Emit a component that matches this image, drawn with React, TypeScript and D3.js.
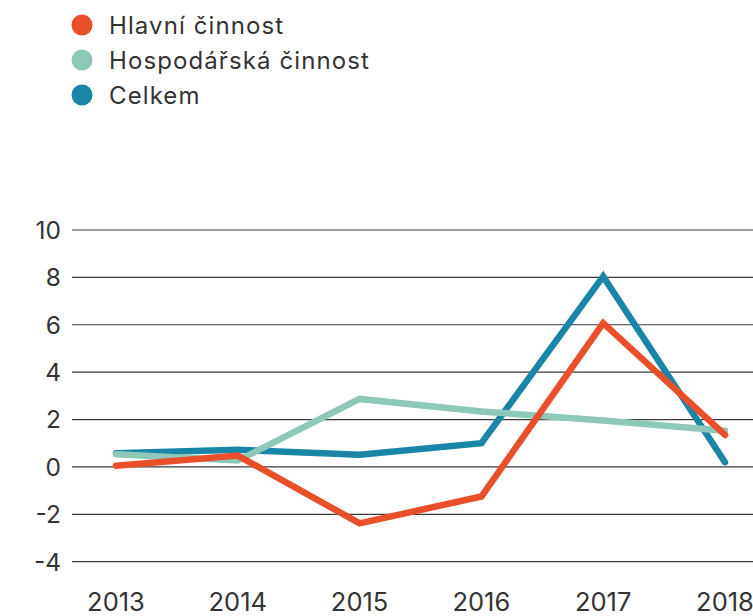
import React, { useRef, useEffect } from 'react';
import * as d3 from 'd3';

const years = ['2013', '2014', '2015', '2016', '2017', '2018'];
const hlavni = [0.05, 0.48, -2.38, -1.25, 6.07, 1.35];
const hospodarska = [0.54, 0.27, 2.87, 2.34, 1.96, 1.53];
const celkem = [0.58, 0.72, 0.51, 1.0, 8.04, 0.2];
const yTicks = [-4, -2, 0, 2, 4, 6, 8, 10];

const seriesNames = ['Hlavní činnost', 'Hospodářská činnost', 'Celkem'];
const seriesColors = ['#e9502a', '#8ec8b9', '#1985a7'];

const W = 753;
const H = 616;

const App = () => {
  const svgRef = useRef<SVGSVGElement>(null);

  useEffect(() => {
    const svg = d3.select(svgRef.current);
    svg.selectAll('*').remove();

    const font = "'Inter', 'Roboto', sans-serif";

    const x = d3.scalePoint<string>()
      .domain(years)
      .range([116, 725]);

    const y = d3.scaleLinear()
      .domain([-4, 10])
      .range([561.7, 230]);

    // gridlines
    svg.append('g')
      .selectAll('line')
      .data(yTicks)
      .enter()
      .append('line')
      .attr('x1', 72)
      .attr('x2', W)
      .attr('y1', d => y(d))
      .attr('y2', d => y(d))
      .attr('stroke', '#3a3a3a')
      .attr('stroke-width', 1.2);

    // y tick labels
    svg.append('g')
      .selectAll('text')
      .data(yTicks)
      .enter()
      .append('text')
      .attr('x', 61)
      .attr('y', d => y(d))
      .attr('dy', '0.36em')
      .attr('text-anchor', 'end')
      .attr('font-family', font)
      .attr('font-size', 24.5)
      .attr('fill', '#333')
      .text(d => d);

    // x labels
    svg.append('g')
      .selectAll('text')
      .data(years)
      .enter()
      .append('text')
      .attr('x', d => x(d)!)
      .attr('y', 611)
      .attr('text-anchor', 'middle')
      .attr('font-family', font)
      .attr('font-size', 25.5)
      .attr('fill', '#333')
      .text(d => d);

    const line = d3.line<number>()
      .x((d, i) => x(years[i])!)
      .y(d => y(d));

    // draw order: blue, teal, orange
    const series = [
      { values: celkem, color: seriesColors[2] },
      { values: hospodarska, color: seriesColors[1] },
      { values: hlavni, color: seriesColors[0] },
    ];

    svg.append('g')
      .selectAll('path')
      .data(series)
      .enter()
      .append('path')
      .attr('d', d => line(d.values))
      .attr('fill', 'none')
      .attr('stroke', d => d.color)
      .attr('stroke-width', 6.5)
      .attr('stroke-linecap', 'round')
      .attr('stroke-linejoin', 'miter');

    // legend
    const legend = svg.append('g');
    seriesNames.forEach((name, i) => {
      const cy = 25 + i * 35;
      legend.append('circle')
        .attr('cx', 82)
        .attr('cy', cy)
        .attr('r', 10.5)
        .attr('fill', seriesColors[i]);
      legend.append('text')
        .attr('x', 109)
        .attr('y', cy)
        .attr('dy', '0.36em')
        .attr('font-family', font)
        .attr('font-size', 24)
        .attr('letter-spacing', 1.1)
        .attr('fill', '#333')
        .text(name);
    });
  }, []);

  return (
    <svg
      ref={svgRef}
      width={W}
      height={H}
      style={{ position: 'absolute', left: 0, top: 0, background: '#fff' }}
    />
  );
};

export default App;
